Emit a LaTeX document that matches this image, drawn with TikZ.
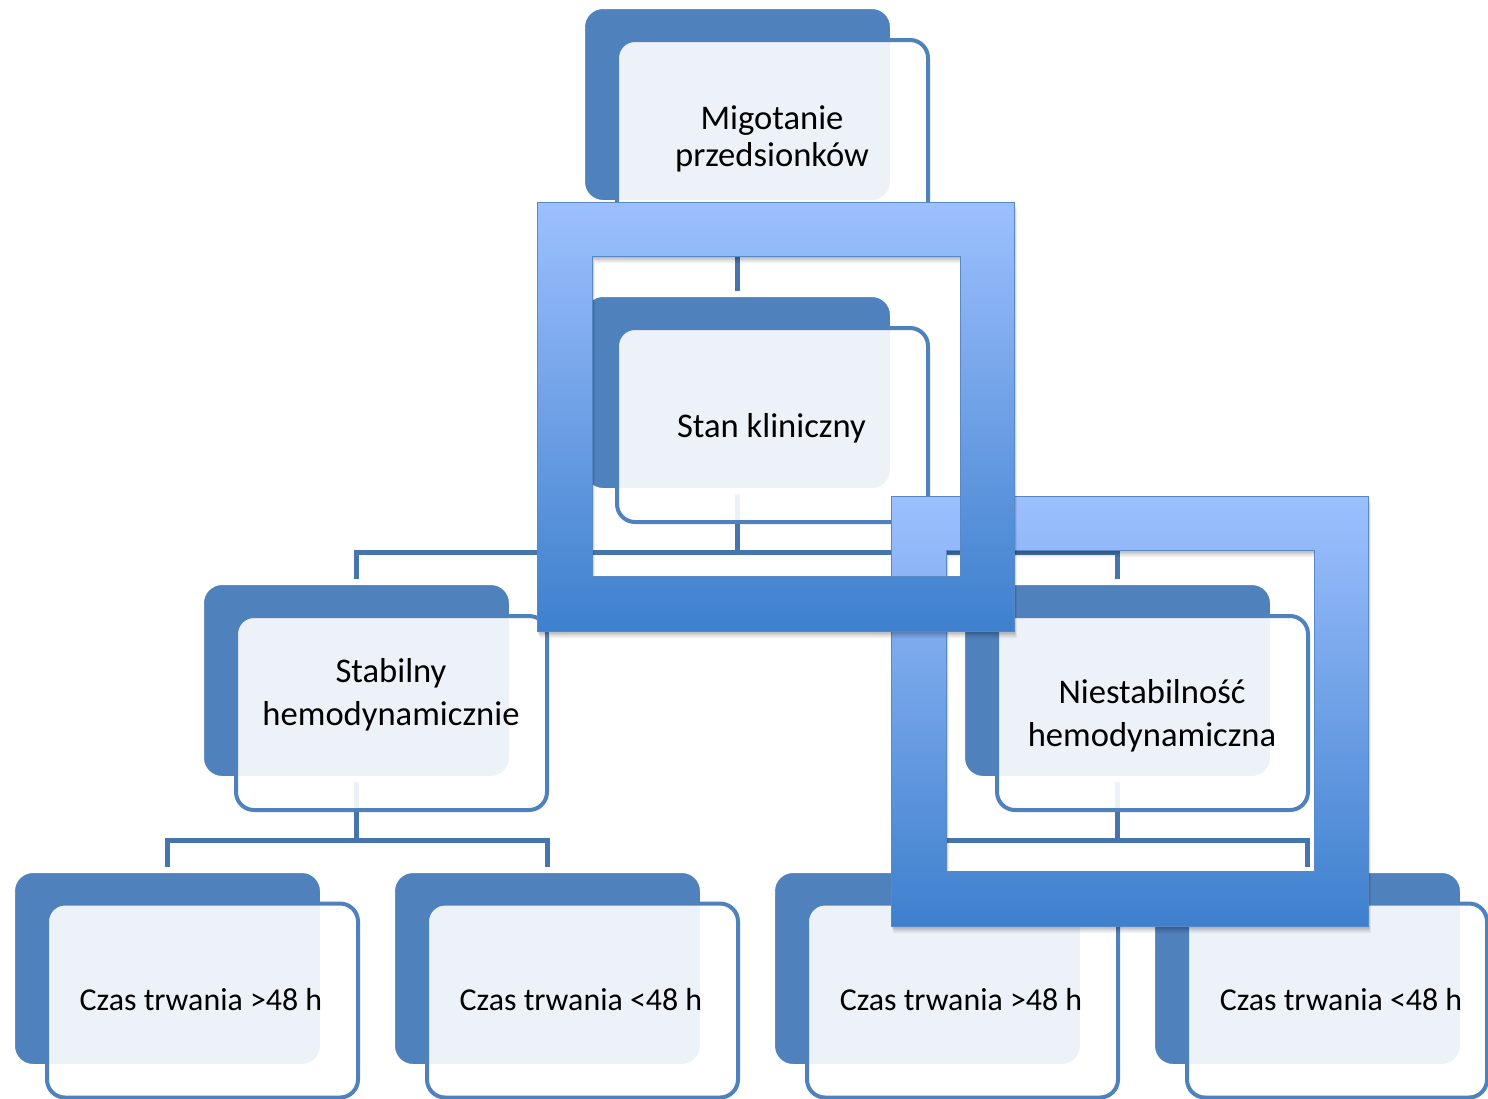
\documentclass[tikz,border=0pt]{standalone}
\usepackage{fontspec}
\setmainfont{Carlito}
\definecolor{accent}{RGB}{79,129,189}
\definecolor{connblue}{RGB}{70,117,174}
\definecolor{frametop}{RGB}{157,192,254}
\definecolor{framebot}{RGB}{62,128,205}
\definecolor{frameline}{RGB}{88,136,200}
\pgfdeclarelayer{bg}
\pgfdeclarelayer{links}
\pgfsetlayers{bg,links,main}
\tikzset{
  backbox/.style={rectangle, rounded corners=21pt, fill=accent, draw=white,
    line width=6pt, minimum width=311pt, minimum height=197pt, inner sep=0pt},
  frontbox/.style={rectangle, rounded corners=18pt, fill=white, fill opacity=0.9,
    draw=accent, draw opacity=1, line width=4pt, minimum width=311pt,
    minimum height=194pt, inner sep=0pt},
  uppertext/.style={align=center, inner sep=0pt, text=black},
  lowertext/.style={inner sep=0pt, text=black, anchor=base,
    font=\fontsize{31.9}{38}\selectfont},
  link/.style={draw=connblue, line width=5pt},
}
% ring-shaped frame with a vertical gradient and a soft drop shadow
% #1,#2: outer top-left corner; #3,#4: outer bottom-right corner
\newcommand{\ringframe}[4]{%
  \foreach \s/\o in {7/0.05,5.5/0.06,4/0.07,2.5/0.08,1/0.08}{%
    \fill[black, opacity=\o, even odd rule, shift={(0.4*\s,\s)}]
      (#1,#2) rectangle (#3,#4) (#1+55,#2+54) rectangle (#3-54,#4-55);
  }
  \begin{scope}
    \clip (#1,#2) rectangle (#3,#2+54)
          (#1,#2+54) rectangle (#1+55,#4-55)
          (#3-54,#2+54) rectangle (#3,#4-55)
          (#1,#4-55) rectangle (#3,#4);
    \shade[top color=frametop, bottom color=framebot] (#1,#2) rectangle (#3,#4);
  \end{scope}
  \draw[frameline, line width=1pt, even odd rule]
    (#1,#2) rectangle (#3,#4) (#1+55,#2+54) rectangle (#3-54,#4-55);
}
\begin{document}
\begin{tikzpicture}[x=1pt,y=-1pt]
\useasboundingbox (0,0) rectangle (1488,1098);
\begin{pgfonlayer}{bg}
  \fill[white] (0,0) rectangle (1488,1098);
\end{pgfonlayer}
\clip (0,0) rectangle (1488,1098);

% back shapes
\node[backbox] (a1) at (737.5,104.5) {};
\node[backbox] (a2) at (737.5,392.5) {};
\node[backbox] (a3) at (356.5,680.5) {};
\node[backbox] (a4) at (1117.5,680.5) {};
\node[backbox] (a5) at (167.5,968.5) {};
\node[backbox] (a6) at (547.5,968.5) {};
\node[backbox] (a7) at (927.5,968.5) {};
\node[backbox] (a8) at (1307.5,968.5) {};

% translucent front shapes
\node[frontbox] (b1) at (772.5,137) {};
\node[frontbox] (b2) at (772.5,425) {};
\node[frontbox] (b3) at (391.5,713) {};
\node[frontbox] (b4) at (1152.5,713) {};
\node[frontbox] (b5) at (202.5,1000.5) {};
\node[frontbox] (b6) at (582.5,1000.5) {};
\node[frontbox] (b7) at (962.5,1000.5) {};
\node[frontbox, minimum width=300pt] (b8) at (1337,1000.5) {};

% texts
\node[uppertext, font=\fontsize{34.6}{37}\selectfont] (t1) at (772,138.5)
  {Migotanie\\przedsionków};
\node[uppertext, anchor=base, font=\fontsize{34.6}{37}\selectfont] (t2) at (771.5,437)
  {Stan kliniczny};
\node[uppertext, font=\fontsize{34.6}{42.5}\selectfont] (t3) at (391,695)
  {Stabilny\\hemodynamicznie};
\node[uppertext, font=\fontsize{34.6}{43}\selectfont] (t4) at (1152,715.5)
  {Niestabilność\\hemodynamiczna};
\node[lowertext] (t5) at (201,1010.5) {Czas trwania >48 h};
\node[lowertext] (t6) at (581,1010.5) {Czas trwania <48 h};
\node[lowertext] (t7) at (961,1010.5) {Czas trwania >48 h};
\node[lowertext] (t8) at (1341,1010.5) {Czas trwania <48 h};

% connectors, kept behind the boxes
\coordinate (j2) at (737.5,552);
\coordinate (j3) at (356.5,840);
\coordinate (j4) at (1117.5,840);
\begin{pgfonlayer}{links}
  \draw[link] (a1.south) -- (a2.north);
  \draw[link] (a2.south) -- (j2);
  \draw[link] (a3.north) |- (j2) -| (a4.north);
  \draw[link] (a3.south) -- (j3);
  \draw[link] (a5.north) |- (j3) -| (a6.north);
  \draw[link] (a4.south) -- (j4);
  \draw[link] (a7.north) |- (j4) -| (a8.north);
\end{pgfonlayer}

% overlapping gradient frames
\ringframe{891}{496}{1368}{926}
\ringframe{537}{202}{1014}{631}
\end{tikzpicture}
\end{document}
